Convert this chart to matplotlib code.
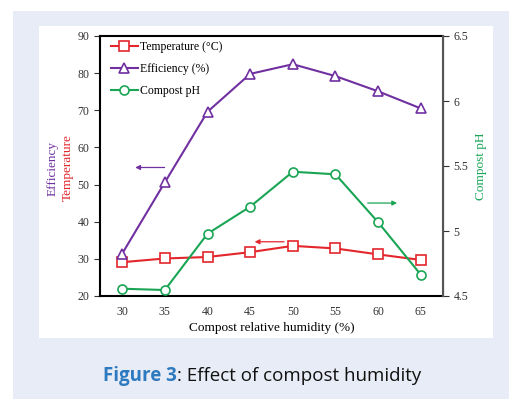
import matplotlib.pyplot as plt
from matplotlib.patches import Rectangle

plt.rcParams['font.family'] = ['Liberation Serif', 'DejaVu Serif']

humidity = [30, 35, 40, 45, 50, 55, 60, 65]
temperature = [29.1, 30.1, 30.5, 31.8, 33.5, 32.8, 31.2, 29.7]
efficiency = [31.4, 50.6, 69.6, 79.8, 82.4, 79.2, 75.1, 70.5]
ph = [4.556, 4.546, 4.979, 5.187, 5.456, 5.436, 5.067, 4.664]

red = '#e3262b'
purple = '#7030a0'
green = '#1aa555'

fig = plt.figure(figsize=(5.09, 3.99), dpi=100)
fig.patch.set_facecolor('white')
# page background and white panel
fig.patches.append(Rectangle((13 / 509, 0), 1, 388 / 399, transform=fig.transFigure,
                             facecolor='#e8ecf6', edgecolor='none', zorder=-2))
fig.patches.append(Rectangle((39 / 509, 61 / 399), 454 / 509, 312 / 399, transform=fig.transFigure,
                             facecolor='white', edgecolor='none', zorder=-1))

ax = fig.add_axes([100 / 509, 103 / 399, 343 / 509, 260 / 399])
ax2 = ax.twinx()

l1, = ax.plot(humidity, temperature, '-s', color=red, lw=1.5, ms=6.5,
              mfc='white', mec=red, mew=1.2, label='Temperature (\u00b0C)')
l2, = ax.plot(humidity, efficiency, '-^', color=purple, lw=1.5, ms=6.5,
              mfc='white', mec=purple, mew=1.2, label='Efficiency (%)')
l3, = ax2.plot(humidity, ph, '-o', color=green, lw=1.5, ms=6.5,
               mfc='white', mec=green, mew=1.2, label='Compost pH')

ax.set_xlim(27.4, 67.6)
ax.set_ylim(20, 90)
ax2.set_ylim(4.5, 6.5)
ax.set_xticks(humidity)
ax.set_yticks(range(20, 91, 10))
ax2.set_yticks([4.5, 5, 5.5, 6, 6.5])
ax2.set_yticklabels(['4.5', '5', '5.5', '6', '6.5'])

ax.tick_params(axis='x', length=0, labelsize=8.5, colors='#333333', pad=7)
ax.tick_params(axis='y', length=4, labelsize=8.5, colors='#333333', direction='out')
ax2.tick_params(axis='y', length=4, labelsize=8.5, colors='#333333', direction='out')
for s in ['left', 'bottom', 'top']:
    ax.spines[s].set_linewidth(1.5)
ax2.spines['right'].set_color('#555555')
ax2.spines['right'].set_linewidth(1.5)
ax2.spines['left'].set_visible(False)
ax2.spines['top'].set_visible(False)
ax2.spines['bottom'].set_visible(False)

ax.set_xlabel('Compost relative humidity (%)', fontsize=9.5, labelpad=3)

leg = ax.legend(handles=[l1, l2, l3], loc='upper left', frameon=False, fontsize=8.5,
                handlelength=2.3, handletextpad=0.2, labelspacing=0.85,
                bbox_to_anchor=(0.0, 1.02), borderaxespad=0.5)

ap = dict(arrowstyle='-|>', lw=0.9, mutation_scale=7)
ax.annotate('', xy=(31.2, 54.6), xytext=(35.3, 54.6),
            arrowprops=dict(ap, color=purple))
ax.annotate('', xy=(45.2, 34.6), xytext=(49.3, 34.6),
            arrowprops=dict(ap, color=red))
ax2.annotate('', xy=(62.55, 5.215), xytext=(58.45, 5.215),
             arrowprops=dict(ap, color=green))

fig.text(53 / 509, 1 - 168 / 399, 'Efficiency', rotation=90, color=purple,
         fontsize=9.5, ha='center', va='center')
fig.text(68 / 509, 1 - 168 / 399, 'Temperature', rotation=90, color=red,
         fontsize=9.5, ha='center', va='center')
fig.text(481 / 509, 1 - 166 / 399, 'Compost pH', rotation=90, color=green,
         fontsize=9.5, ha='center', va='center')

# caption: blue bold part then regular part
t1 = fig.text(103 / 509, 1 - 376 / 399, 'Figure 3', color='#2e7ac0', fontsize=13.5,
              fontweight='bold', family='Open Sans', va='center')
fig.canvas.draw()
bb = t1.get_window_extent()
fig.text(bb.x1 / fig.bbox.width, 1 - 376 / 399, ': Effect of compost humidity',
         color='#111111', fontsize=13.5, family='Open Sans', va='center')

fig.savefig('out.png', dpi=100)
